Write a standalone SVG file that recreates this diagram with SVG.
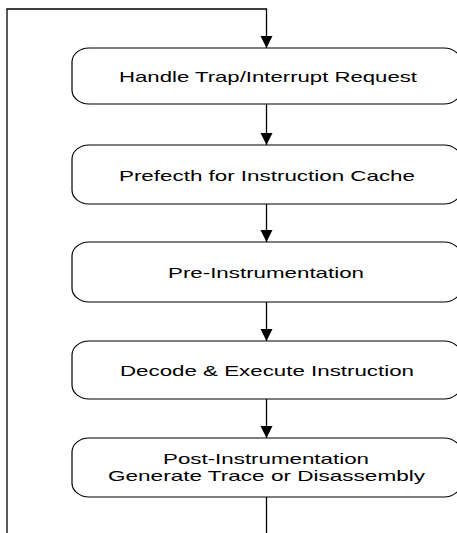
<svg xmlns="http://www.w3.org/2000/svg" width="457" height="533" viewBox="0 0 457 533">
<style>
.box{fill:#fff;stroke:#000;stroke-width:1.2}
.lbl{font-family:"Liberation Sans",Arial,sans-serif;font-size:15px;fill:#000;text-anchor:middle}
.conn{fill:none;stroke:#000;stroke-width:1.3}
</style>
<defs>
<marker id="arr" markerUnits="userSpaceOnUse" markerWidth="12" markerHeight="13" refX="12" refY="6" orient="auto">
<path d="M0,0 L12,6 L0,12 Z" fill="#000"/>
</marker>
</defs>
<rect width="457" height="533" fill="#fff"/>
<g id="connectors">
<path class="conn" d="M7,533 V9 H266.5 V48" marker-end="url(#arr)"/>
<path class="conn" d="M266.5,104 V145" marker-end="url(#arr)"/>
<path class="conn" d="M266.5,204 V242" marker-end="url(#arr)"/>
<path class="conn" d="M266.5,302 V341" marker-end="url(#arr)"/>
<path class="conn" d="M266.5,399 V438" marker-end="url(#arr)"/>
<path class="conn" d="M266.5,497 V533"/>
</g>
<g id="n1">
<rect class="box" x="72" y="48" width="389" height="56" rx="17" ry="14"/>
<text class="lbl" x="268" y="81.5" textLength="298" lengthAdjust="spacingAndGlyphs">Handle Trap/Interrupt Request</text>
</g>
<g id="n2">
<rect class="box" x="72" y="145" width="389" height="59" rx="17" ry="14"/>
<text class="lbl" x="267" y="180.5" textLength="296" lengthAdjust="spacingAndGlyphs">Prefecth for Instruction Cache</text>
</g>
<g id="n3">
<rect class="box" x="72" y="242" width="389" height="60" rx="17" ry="14"/>
<text class="lbl" x="266" y="277.5" textLength="196" lengthAdjust="spacingAndGlyphs">Pre-Instrumentation</text>
</g>
<g id="n4">
<rect class="box" x="72" y="341" width="389" height="58" rx="17" ry="14"/>
<text class="lbl" x="267" y="375.5" textLength="294" lengthAdjust="spacingAndGlyphs">Decode &amp; Execute Instruction</text>
</g>
<g id="n5">
<rect class="box" x="72" y="438" width="389" height="59" rx="17" ry="14"/>
<text class="lbl" x="266" y="464" textLength="206" lengthAdjust="spacingAndGlyphs">Post-Instrumentation</text>
<text class="lbl" x="266.5" y="480.5" textLength="317" lengthAdjust="spacingAndGlyphs">Generate Trace or Disassembly</text>
</g>
</svg>
